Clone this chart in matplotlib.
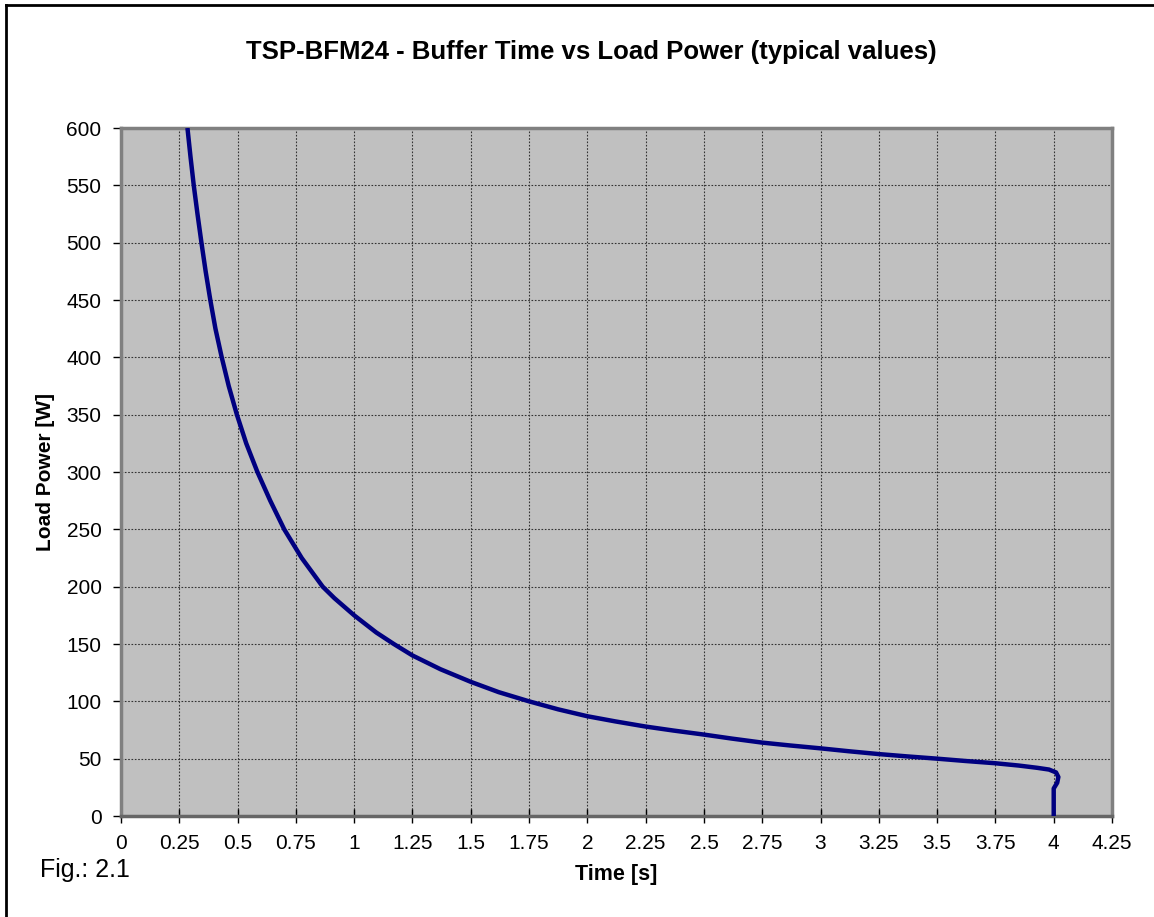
import numpy as np
import matplotlib.pyplot as plt
from matplotlib.lines import Line2D

plt.rcParams['font.family'] = ['Liberation Sans', 'DejaVu Sans']

# buffer time [s] vs load power [W]
time_s = [0.285, 0.298, 0.312, 0.328, 0.345, 0.363, 0.383, 0.405, 0.432, 0.462,
          0.497, 0.537, 0.585, 0.64, 0.7, 0.775, 0.865, 0.915, 1.0, 1.095,
          1.17, 1.25, 1.37, 1.5, 1.62, 1.75, 1.875, 2.0, 2.12, 2.25, 2.37,
          2.5, 2.62, 2.75, 2.87, 3.0, 3.12, 3.25, 3.37, 3.5, 3.62, 3.75,
          3.85, 3.93, 3.98, 4.01, 4.02, 4.015, 4.0, 4.0, 4.0]
power_w = [600, 575, 550, 525, 500, 475, 450, 425, 400, 375,
           350, 325, 300, 275, 250, 225, 200, 190, 175, 160,
           150, 140, 128, 117, 108, 100, 93, 87, 82.5, 78, 74.5,
           71, 67.5, 64, 61.5, 59, 56.5, 54, 52, 50, 48, 46,
           44, 42, 40.5, 38, 34, 29, 24, 20, 0]

xticks = np.arange(0, 4.26, 0.25)
xlabels = ["0", "0.25", "0.5", "0.75", "1", "1.25", "1.5", "1.75", "2", "2.25",
           "2.5", "2.75", "3", "3.25", "3.5", "3.75", "4", "4.25"]
yticks = np.arange(0, 601, 50)

fig = plt.figure(figsize=(11.54, 9.17), dpi=100)
ax = fig.add_axes([121 / 1154, 1 - 816 / 917, (1112 - 121) / 1154, (816 - 128) / 917])

ax.set_facecolor("#c0c0c0")
ax.plot(time_s, power_w, color="#000080", linewidth=3.2,
        solid_joinstyle="round", solid_capstyle="butt", zorder=3)

ax.set_xlim(0, 4.25)
ax.set_ylim(0, 600)
ax.set_xticks(xticks)
ax.set_xticklabels(xlabels)
ax.set_yticks(yticks)
ax.tick_params(labelsize=15, width=1, color="black")
ax.tick_params(axis="x", direction="inout", length=10, pad=8)
ax.tick_params(axis="y", direction="out", length=6, pad=8)
ax.grid(True, color="#333333", linestyle=(0, (1.5, 1.5)), linewidth=0.8)
ax.set_axisbelow(True)
for side in ["top", "right", "left"]:
    ax.spines[side].set_color("#808080")
    ax.spines[side].set_linewidth(2.5)
ax.spines["bottom"].set_color("#666666")
ax.spines["bottom"].set_linewidth(2.5)

ax.set_xlabel("Time [s]", fontsize=15.5, fontweight="bold", labelpad=8)
ax.set_ylabel("Load Power [W]", fontsize=15, fontweight="bold", labelpad=8)

fig.text(591 / 1154, 1 - 52 / 917, "TSP-BFM24 - Buffer Time vs Load Power (typical values)",
         ha="center", va="center", fontsize=18.5, fontweight="bold")
fig.text(40 / 1154, 1 - 870 / 917, "Fig.: 2.1", ha="left", va="center", fontsize=18)

# outer frame: only top and left edges fall inside the picture
x0, y0 = 6 / 1154, 1 - 5 / 917
fig.add_artist(Line2D([x0, 1.0], [y0, y0], transform=fig.transFigure, color="black", linewidth=2))
fig.add_artist(Line2D([x0, x0], [0.0, y0], transform=fig.transFigure, color="black", linewidth=2))

fig.savefig("out.png", dpi=100)
